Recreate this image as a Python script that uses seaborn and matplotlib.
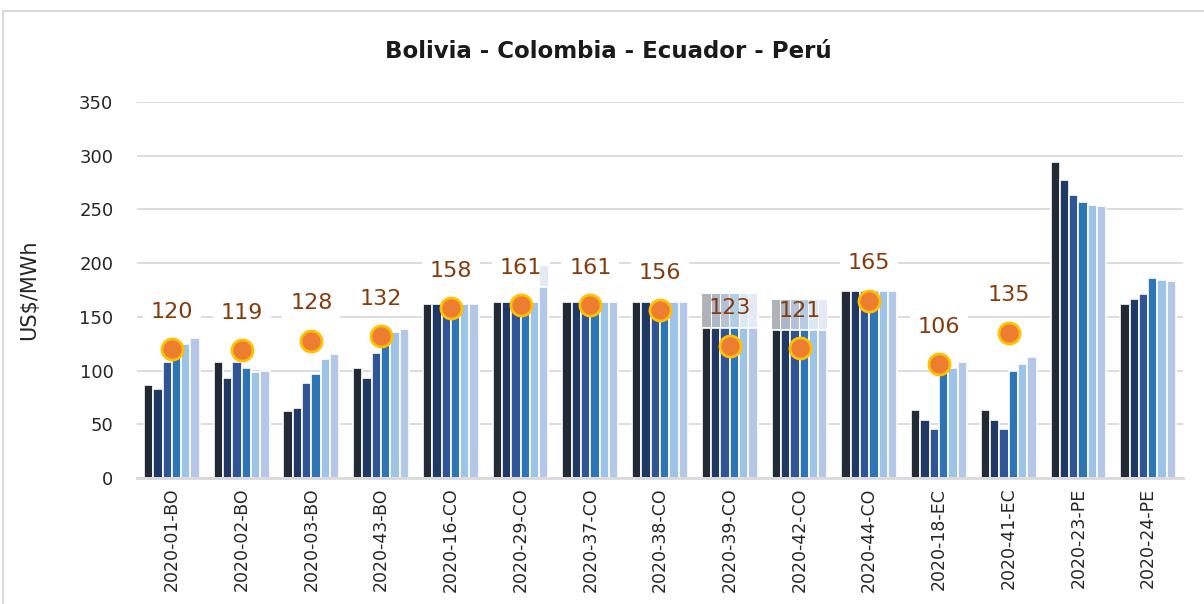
import numpy as np
import pandas as pd
import seaborn as sns
import matplotlib.pyplot as plt
from matplotlib.patches import Rectangle

categories = ["2020-01-BO", "2020-02-BO", "2020-03-BO", "2020-43-BO", "2020-16-CO",
              "2020-29-CO", "2020-37-CO", "2020-38-CO", "2020-39-CO", "2020-42-CO",
              "2020-44-CO", "2020-18-EC", "2020-41-EC", "2020-23-PE", "2020-24-PE"]
series_names = ["s1", "s2", "s3", "s4", "s5", "s6"]

s1 = [87, 108, 62, 102, 162, 164, 164, 164, 140, 138, 174, 63, 63, 294, 162]
s2 = [83, 93, 65, 93, 162, 164, 164, 164, 140, 138, 174, 54, 54, 277, 167]
s3 = [108, 108, 88, 116, 162, 164, 164, 164, 140, 138, 174, 46, 46, 263, 171]
s4 = [115, 102, 97, 125, 162, 164, 164, 164, 140, 138, 174, 107, 100, 257, 186]
s5 = [125, 99, 111, 136, 162, 164, 164, 164, 140, 138, 174, 102, 106, 254, 184]
s6 = [130, 100, 115, 139, 162, 178, 164, 164, 140, 138, 174, 108, 113, 253, 183]

# extra (lighter) stacked part on top of some bars
extra_by_cat = {"2020-29-CO": [0, 0, 0, 0, 0, 19],
                "2020-39-CO": [31, 31, 31, 31, 31, 31],
                "2020-42-CO": [27, 27, 27, 27, 27, 27]}

dot_values = [120, 119, 128, 132, 158, 161, 161, 156, 123, 121, 165, 106, 135]

palette = ["#222A35", "#203864", "#2F5597", "#2E75B6", "#9DC3E6", "#B4C7E7"]

rows = []
for name, vals in zip(series_names, [s1, s2, s3, s4, s5, s6]):
    for cat, v in zip(categories, vals):
        rows.append({"cat": cat, "serie": name, "value": v})
df = pd.DataFrame(rows)

sns.set_style("white")
plt.rcParams['font.family'] = ['DejaVu Sans']

fig = plt.figure(figsize=(12.04, 6.04), dpi=100)
ax = fig.add_axes([0.1138, 0.2086, 0.8688, 0.6225])

sns.barplot(data=df, x="cat", y="value", hue="serie", order=categories,
            hue_order=series_names, palette=palette, errorbar=None,
            width=0.8, edgecolor="white", linewidth=1.2, saturation=1,
            legend=False, ax=ax, zorder=2)

# lighter stacked segments
patches = list(ax.patches)
n = len(categories)
for j, name in enumerate(series_names):
    for i, cat in enumerate(categories):
        if cat in extra_by_cat and extra_by_cat[cat][j] > 0:
            p = patches[j * n + i]
            w = p.get_width()
            ax.bar(p.get_x() + w * 0.06, extra_by_cat[cat][j], width=w * 0.88,
                   bottom=p.get_height() + 0.4, align="edge", color=palette[j],
                   alpha=0.36, linewidth=0, zorder=2)

xs = np.arange(len(dot_values))
ax.scatter(xs, dot_values, s=230, color="#ED7D31", edgecolor="#FFC000",
           linewidth=2, zorder=5)
for x, v in zip(xs, dot_values):
    # white box only masks the gridlines, sits below the bars
    ax.annotate(str(v), (x, v), xytext=(0, 27), textcoords="offset points",
                ha="center", va="center", fontsize=16, color="none", zorder=1.5,
                bbox=dict(boxstyle="square,pad=0.35", fc="white", ec="none"))
    ax.annotate(str(v), (x, v), xytext=(0, 27), textcoords="offset points",
                ha="center", va="center", fontsize=16, color="#843C0C", zorder=6)

ax.set_ylim(0, 350)
ax.set_xlim(-0.5, n - 0.5)
ax.set_yticks(range(0, 351, 50))
ax.yaxis.grid(True, color="#D9D9D9", linewidth=1.3, zorder=0)
ax.set_axisbelow(True)
for side in ["top", "right", "left"]:
    ax.spines[side].set_visible(False)
ax.spines["bottom"].set_color("#D9D9D9")
ax.spines["bottom"].set_linewidth(2)
ax.tick_params(axis="both", length=0)
ax.tick_params(axis="y", labelsize=13, pad=17)
ax.tick_params(axis="x", labelsize=12.5, pad=7)
plt.setp(ax.get_xticklabels(), rotation=90)
ax.set_xlabel("")
ax.set_ylabel("US$/MWh", fontsize=15, labelpad=29)
fig.text(0.505, 0.914, "Bolivia - Colombia - Ecuador - Perú", ha="center", va="center",
         fontsize=16.5, fontweight="bold", color="#1a1a1a")

fig.patches.append(Rectangle((3 / 1204, -0.05), 1.1, 0.982 + 0.05, transform=fig.transFigure,
                             fill=False, edgecolor="#D9D9D9", linewidth=1.5))

fig.savefig("out.png", dpi=100)
